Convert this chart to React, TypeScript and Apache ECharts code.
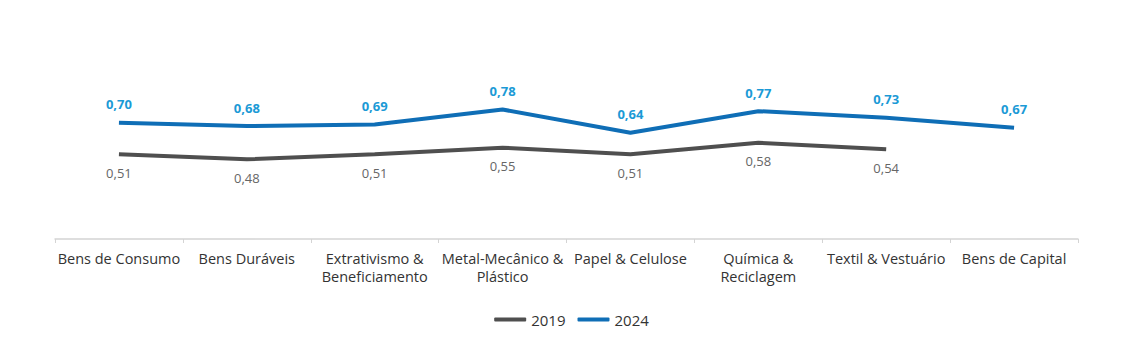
import React, { useEffect, useRef } from "react";
import * as echarts from "echarts";

const categories = [
  "Bens de Consumo",
  "Bens Duráveis",
  "Extrativismo &\nBeneficiamento",
  "Metal-Mecânico &\nPlástico",
  "Papel & Celulose",
  "Química &\nReciclagem",
  "Textil & Vestuário",
  "Bens de Capital",
];
const values2019: (number | null)[] = [0.51, 0.48, 0.51, 0.55, 0.51, 0.58, 0.54, null];
const values2024: number[] = [0.7, 0.68, 0.69, 0.78, 0.64, 0.77, 0.73, 0.67];

const fmt = (p: any) => (p.value == null ? "" : Number(p.value).toFixed(2).replace(".", ","));
const FONT = "'Open Sans', Lato, sans-serif";

export default function App() {
  const ref = useRef<HTMLDivElement>(null);
  useEffect(() => {
    if (!ref.current) return;
    const chart = echarts.init(ref.current, undefined, { renderer: "svg" });
    chart.setOption({
      animation: false,
      textStyle: { fontFamily: FONT },
      grid: { left: 47, right: 57, top: 65, bottom: 107 },
      legend: {
        bottom: 14,
        left: "center",
        itemWidth: 32,
        itemHeight: 4,
        itemGap: 12,
        textStyle: { fontSize: 15, color: "#333", fontFamily: FONT },
        data: [
          { name: "2019", icon: "roundRect" },
          { name: "2024", icon: "roundRect" },
        ],
      },
      xAxis: {
        type: "category",
        data: categories,
        boundaryGap: true,
        axisLine: { lineStyle: { color: "#d4d4d4", width: 1.5 } },
        axisTick: { show: true, lineStyle: { color: "#d4d4d4" }, length: 4 },
        axisLabel: {
          interval: 0,
          color: "#333",
          fontSize: 14.5,
          lineHeight: 18,
          margin: 10,
          fontFamily: FONT,
        },
      },
      yAxis: {
        type: "value",
        min: 0,
        max: 1,
        show: false,
        splitLine: { show: false },
      },
      series: [
        {
          name: "2019",
          type: "line",
          data: values2019,
          symbol: "circle",
          symbolSize: 0.1,
          showSymbol: true,
          lineStyle: { color: "#4f4f4f", width: 4 },
          itemStyle: { color: "#4f4f4f" },
          label: {
            show: true,
            position: "bottom",
            distance: 12,
            color: "#666",
            fontSize: 13,
            fontFamily: FONT,
            formatter: fmt,
          },
        },
        {
          name: "2024",
          type: "line",
          data: values2024,
          symbol: "circle",
          symbolSize: 0.1,
          showSymbol: true,
          lineStyle: { color: "#0f6eb6", width: 4 },
          itemStyle: { color: "#0f6eb6" },
          label: {
            show: true,
            position: "top",
            distance: 12,
            color: "#1b9ad6",
            fontSize: 13,
            fontWeight: "bold",
            fontFamily: FONT,
            formatter: fmt,
          },
        },
      ],
    });
    return () => chart.dispose();
  }, []);
  return <div ref={ref} style={{ width: 1127, height: 338 }} />;
}
